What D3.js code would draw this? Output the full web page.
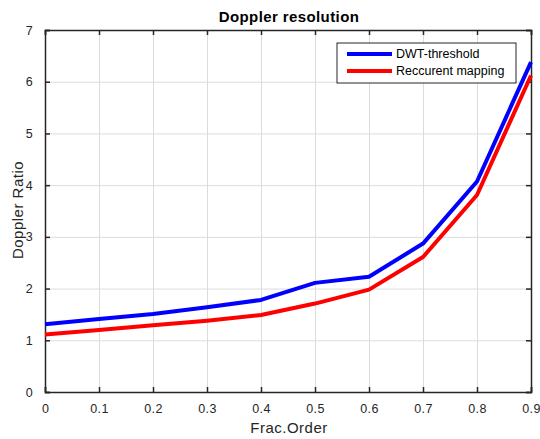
<!DOCTYPE html>
<html>
<head>
<style>
  body { margin: 0; background: #fff; }
  text { font-family: "Liberation Sans", Arial, sans-serif; fill: #262626; }
  .grid line { stroke: #dcdcdc; stroke-width: 1; }
  .grid path { display: none; }
  .axis text { font-size: 12.5px; letter-spacing: 0.3px; }
  .axis path, .axis line { stroke: #262626; }
</style>
</head>
<body>
<svg id="chart" width="540" height="439"></svg>
<script src="https://cdnjs.cloudflare.com/ajax/libs/d3/7.8.5/d3.min.js"></script>
<script>
// chart data
const fracOrder = [0, 0.1, 0.2, 0.3, 0.4, 0.5, 0.6, 0.7, 0.8, 0.9];
const dwtThreshold = [1.31, 1.41, 1.51, 1.64, 1.78, 2.11, 2.23, 2.87, 4.07, 6.38];
const recurrentMapping = [1.11, 1.2, 1.29, 1.38, 1.49, 1.71, 1.98, 2.61, 3.81, 6.12];
const xTicks = [0, 0.1, 0.2, 0.3, 0.4, 0.5, 0.6, 0.7, 0.8, 0.9];
const yTicks = [0, 1, 2, 3, 4, 5, 6, 7];

const series = [
  { name: 'DWT-threshold', color: '#0000ff', values: dwtThreshold },
  { name: 'Reccurent mapping', color: '#ff0000', values: recurrentMapping }
];

const svg = d3.select('#chart');
const margin = { top: 30, right: 9, bottom: 47, left: 45 };
const width = 540 - margin.left - margin.right,
      height = 439 - margin.top - margin.bottom;

const x = d3.scaleLinear().domain([0, 0.9]).range([0, width]);
const y = d3.scaleLinear().domain([0, 7]).range([height, 0]);

const g = svg.append('g').attr('transform', `translate(${margin.left},${margin.top})`);

// grid
g.append('g').attr('class', 'grid')
  .attr('transform', `translate(0,${height})`)
  .call(d3.axisBottom(x).tickValues(xTicks).tickSize(-height).tickFormat(''));
g.append('g').attr('class', 'grid')
  .call(d3.axisLeft(y).tickValues(yTicks).tickSize(-width).tickFormat(''));

// box edges with inward ticks
g.append('g').attr('class', 'axis')
  .call(d3.axisTop(x).tickValues(xTicks).tickSize(-5).tickFormat(''))
  .selectAll('line, path').attr('stroke-width', 1.5);
g.append('g').attr('class', 'axis')
  .attr('transform', `translate(${width},0)`)
  .call(d3.axisRight(y).tickValues(yTicks).tickSize(-5).tickFormat(''))
  .selectAll('line, path').attr('stroke-width', 1.5);

const xAxis = g.append('g').attr('class', 'axis')
  .attr('transform', `translate(0,${height})`)
  .call(d3.axisBottom(x).tickValues(xTicks).tickSize(-5).tickPadding(12)
    .tickFormat(d => d === 0 ? '0' : d3.format('.1f')(d)));
xAxis.selectAll('line, path').attr('stroke-width', 1.5);

const yAxis = g.append('g').attr('class', 'axis')
  .call(d3.axisLeft(y).tickValues(yTicks).tickSize(-5).tickPadding(12).tickFormat(d3.format('d')));
yAxis.selectAll('line, path').attr('stroke-width', 1.5);

// lines
const line = d3.line()
  .x((d, i) => x(fracOrder[i]))
  .y(d => y(d));

g.selectAll('.series')
  .data(series)
  .enter().append('path')
  .attr('fill', 'none')
  .attr('stroke', d => d.color)
  .attr('stroke-width', 4)
  .attr('stroke-linejoin', 'round')
  .attr('d', d => line(d.values));

// title and labels
svg.append('text')
  .attr('x', 289).attr('y', 22)
  .attr('text-anchor', 'middle')
  .style('font-size', '15px').style('font-weight', 'bold').style('fill', '#000')
  .style('letter-spacing', '0.4px')
  .text('Doppler resolution');

svg.append('text')
  .attr('x', 289).attr('y', 433)
  .attr('text-anchor', 'middle')
  .style('font-size', '15px').style('letter-spacing', '0.5px')
  .text('Frac.Order');

svg.append('text')
  .attr('transform', `translate(23,210) rotate(-90)`)
  .attr('text-anchor', 'middle')
  .style('font-size', '15px').style('letter-spacing', '0.5px')
  .text('Doppler Ratio');

// legend
const legend = svg.append('g').attr('transform', 'translate(337,43)');
legend.append('rect')
  .attr('width', 179).attr('height', 40)
  .attr('fill', '#fff').attr('stroke', '#262626').attr('stroke-width', 1);
series.forEach((s, i) => {
  const ly = 11 + i * 17;
  legend.append('line')
    .attr('x1', 10).attr('x2', 55).attr('y1', ly).attr('y2', ly)
    .attr('stroke', s.color).attr('stroke-width', 4);
  legend.append('text')
    .attr('x', 59).attr('y', ly + 4)
    .style('font-size', '12.5px').style('fill', '#000')
    .text(s.name);
});
</script>
</body>
</html>
